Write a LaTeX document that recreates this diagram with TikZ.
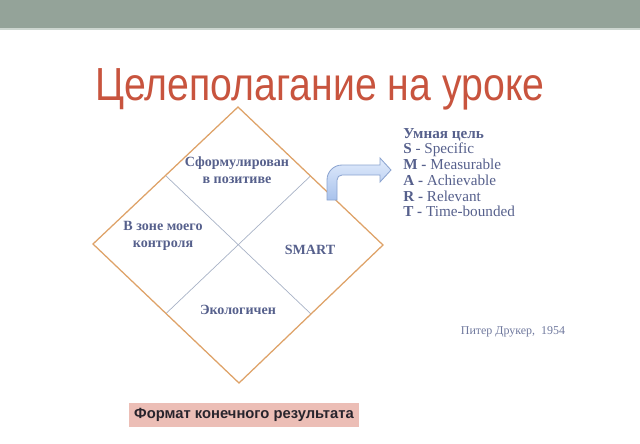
\documentclass[tikz,border=0pt]{standalone}
\usepackage{fontspec}
\setmainfont{Liberation Serif}
\newfontfamily\titlefont{Liberation Sans}
\usetikzlibrary{positioning, calc}
\definecolor{barcol}{RGB}{148,163,153}
\definecolor{barline}{RGB}{205,214,208}
\definecolor{titlecol}{RGB}{200,84,62}
\definecolor{edgecol}{RGB}{222,162,104}
\definecolor{splitcol}{RGB}{168,178,198}
\definecolor{inkcol}{RGB}{86,96,140}
\definecolor{boxcol}{RGB}{236,190,182}
\definecolor{boxtext}{RGB}{40,36,44}
\definecolor{arrowtop}{RGB}{226,236,252}
\definecolor{arrowbot}{RGB}{168,194,236}
\definecolor{arrowline}{RGB}{140,164,208}
\tikzset{
  cell/.style={font=\bfseries\fontsize{10}{12.5}\selectfont, text=inkcol, align=center, inner sep=0pt},
  smartlist/.style={font=\fontsize{10.8}{11.2}\selectfont, text=inkcol, align=left, inner sep=0pt},
  edge/.style={draw=edgecol, line width=0.9pt},
  split/.style={draw=splitcol, line width=0.5pt}
}

\begin{document}
\begin{tikzpicture}[x=0.025cm, y=-0.025cm]
  \useasboundingbox (0,0) rectangle (640,443);
  % Header
  \fill[barcol] (0,0) rectangle (640,28);
  \fill[barline] (0,28) rectangle (640,30);
  \node[font=\titlefont\fontsize{33}{33}\selectfont, text=titlecol, anchor=base, xscale=0.845] (title) at (320,100) {Целеполагание на уроке};
  % Diamond
  \coordinate (top) at (238,107);
  \coordinate (right) at (383,245);
  \coordinate (bottom) at (239,383);
  \coordinate (left) at (93,244);
  \coordinate (tl) at ($(top)!0.5!(left)$);
  \coordinate (tr) at ($(top)!0.5!(right)$);
  \coordinate (bl) at ($(bottom)!0.5!(left)$);
  \coordinate (br) at ($(bottom)!0.5!(right)$);
  \draw[split] (tl) -- (br);
  \draw[split] (tr) -- (bl);
  \draw[edge] (top) -- (right) -- (bottom) -- (left) -- cycle;
  % Cells
  \node[cell] (formulated) at (237,170) {Сформулирован\\в позитиве};
  \node[cell] (control) at (163,236) {В зоне моего\\контроля};
  \node[cell] (smart) at (310,250) {SMART};
  \node[cell] (eco) at (238,310) {Экологичен};
  % Bent arrow
  \draw[arrowline, line width=0.6pt, top color=arrowtop, bottom color=arrowbot]
    (327,200) -- (327,180) .. controls (327,171.7) and (333.7,165) .. (342,165)
    -- (380,165) -- (380,158) -- (391,170) -- (380,182) -- (380,175)
    -- (342,175) .. controls (339.2,175) and (337,177.2) .. (337,180)
    -- (337,200) -- cycle;
  % SMART list
  \node[smartlist, anchor=north west] (goal) at (403,128)
    {\textbf{Умная цель}\\
     \textbf{S} - Specific\\
     \textbf{M -} Measurable\\
     \textbf{A -} Achievable\\
     \textbf{R -} Relevant\\
     \textbf{T -} Time-bounded};
  \node[font=\fontsize{8.5}{10}\selectfont, text=inkcol!85] (drucker) at (513,332) {Питер Друкер,~~1954};
  % Caption
  \node[fill=boxcol, text=boxtext, font=\titlefont\bfseries\fontsize{10.5}{12}\selectfont,
        minimum width=5.75cm, minimum height=0.6cm, inner sep=0pt] (caption) at (244,415) {Формат конечного результата};
\end{tikzpicture}
\end{document}
